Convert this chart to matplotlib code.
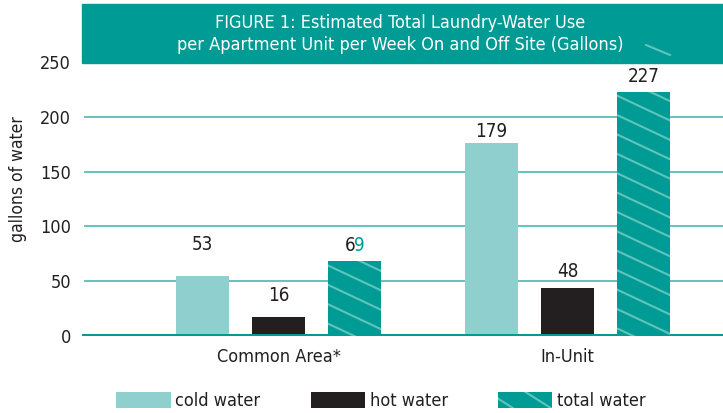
import matplotlib
matplotlib.use("Agg")
import matplotlib.pyplot as plt
import numpy as np
from matplotlib.patches import Patch, Rectangle
from matplotlib.lines import Line2D
from matplotlib.transforms import IdentityTransform
from matplotlib.legend_handler import HandlerPatch

# condensed DejaVu face, close to the narrow font of the original
plt.rcParams['font.family'] = ['DejaVu Sans']
plt.rcParams['font.stretch'] = 'condensed'

# data
groups = ['Common Area*', 'In-Unit']
cold_water = [55, 176]
hot_water = [17, 44]
total_water = [68, 223]
value_labels = [['53', '16', '69'], ['179', '48', '227']]
series_names = ['cold water', 'hot water', 'total water']
y_ticks = [0, 50, 100, 150, 200, 250]
title = ('FIGURE 1: Estimated Total Laundry-Water Use\n'
         'per Apartment Unit per Week On and Off Site (Gallons)')

# styles
teal = '#009b94'
cold_c = '#8fcfcd'
hot_c = '#231f20'
grid_c = '#5bbcb6'
hatch_c = '#5ec5bd'
text_c = '#231f20'


class ShallowHatch(HandlerPatch):
    # legend swatch with the same shallow stripes as the bars
    def create_artists(self, legend, orig_handle, xdescent, ydescent,
                       width, height, fontsize, trans):
        r = Rectangle((-xdescent, -ydescent), width, height,
                      facecolor=teal, edgecolor='none', transform=trans)
        arts = [r]
        for start in (-0.2, 0.5):
            x0 = -xdescent + start * width
            ln = Line2D([x0, x0 + 0.47 * width], [-ydescent + height, -ydescent],
                        color=hatch_c, lw=1.5, transform=trans)
            ln.set_clip_path(r)
            arts.append(ln)
        return arts


fig = plt.figure(figsize=(7.23, 4.13), dpi=100)
ax = fig.add_axes([82 / 723, 1 - 336 / 413, 641 / 723, 274 / 413])

x = np.arange(len(groups))
width = 0.1834
step = 0.263

bars_cold = ax.bar(x - step, cold_water, width, color=cold_c, zorder=2)
bars_hot = ax.bar(x, hot_water, width, color=hot_c, zorder=2)
bars_total = ax.bar(x + step, total_water, width, color=teal, zorder=2)

ax.set_xlim(-0.680, 1.538)
ax.set_ylim(0, 250)

for v in y_ticks[1:-1]:
    ax.axhline(v, xmin=0.005, xmax=1, color=grid_c, lw=1.3, zorder=1)
ax.axhline(0, color=teal, lw=3.6, zorder=3)

for s in ax.spines.values():
    s.set_visible(False)
ax.set_yticks(y_ticks)
ax.set_yticklabels([str(t) for t in y_ticks], fontsize=13, color=text_c)
ax.set_xticks(x)
ax.set_xticklabels(groups, fontsize=13, color=text_c)
ax.tick_params(axis='y', length=0, pad=8)
ax.tick_params(axis='x', length=0, pad=9)

fig.text(18 / 723, 1 - 179 / 413, 'gallons of water', rotation=90,
         ha='center', va='center', fontsize=12.5, color=text_c)

# value labels above bars
label_gap = [[31, 22, 16], [12, 16, 15]]  # px from bar top to label centre
for gi in range(len(groups)):
    for si, bars in enumerate([bars_cold, bars_hot, bars_total]):
        b = bars[gi]
        cx = b.get_x() + b.get_width() / 2
        top = b.get_height()
        lab = value_labels[gi][si]
        off = label_gap[gi][si] * 72 / 100
        if lab == '69':
            ax.annotate('6', (cx, top), xytext=(0.5, off), textcoords='offset points',
                        ha='right', va='center', fontsize=13.5, color=text_c)
            ax.annotate('9', (cx, top), xytext=(-0.5, off), textcoords='offset points',
                        ha='left', va='center', fontsize=13.5, color=teal)
        else:
            ax.annotate(lab, (cx, top), xytext=(0, off), textcoords='offset points',
                        ha='center', va='center', fontsize=13.5, color=text_c)

# shallow diagonal hatch on total bars, drawn in pixels
slope = 0.47
spacing = 19.4
for b in bars_total:
    bb = b.get_window_extent()
    w = bb.x1 - bb.x0
    yy = bb.y1 - 4 + spacing
    while yy > bb.y0 - 2:
        ln = Line2D([bb.x0, bb.x1], [yy, yy - slope * w], color=hatch_c,
                    lw=1.5, transform=IdentityTransform(), zorder=2.5)
        ln.set_clip_path(b)
        fig.add_artist(ln)
        yy -= spacing

# title box
fig.add_artist(Rectangle((82 / 723, 1 - 63 / 413), 641 / 723, 59 / 413,
                         transform=fig.transFigure, color=teal, zorder=5))
fig.text(400 / 723, 1 - 34 / 413, title, ha='center', va='center',
         fontsize=13, color='white', linespacing=1.3, zorder=6)
fig.add_artist(Line2D([646 / 723, 670 / 723], [1 - 45 / 413, 1 - 55 / 413],
                      transform=fig.transFigure, color=hatch_c, lw=1.5, zorder=6))

# legend
handles = [Patch(facecolor=cold_c, edgecolor='none'),
           Patch(facecolor=hot_c, edgecolor='none'),
           Patch(facecolor=teal, edgecolor='none')]
fig.legend(handles, series_names, loc='center', bbox_to_anchor=(381 / 723, 1 - 401 / 413),
           ncol=3, frameon=False, fontsize=13, handlelength=3.0, handleheight=1.0,
           handletextpad=0.25, columnspacing=2.8, borderpad=0, labelcolor=text_c,
           handler_map={handles[2]: ShallowHatch()})

fig.savefig('out.png', dpi=100)
